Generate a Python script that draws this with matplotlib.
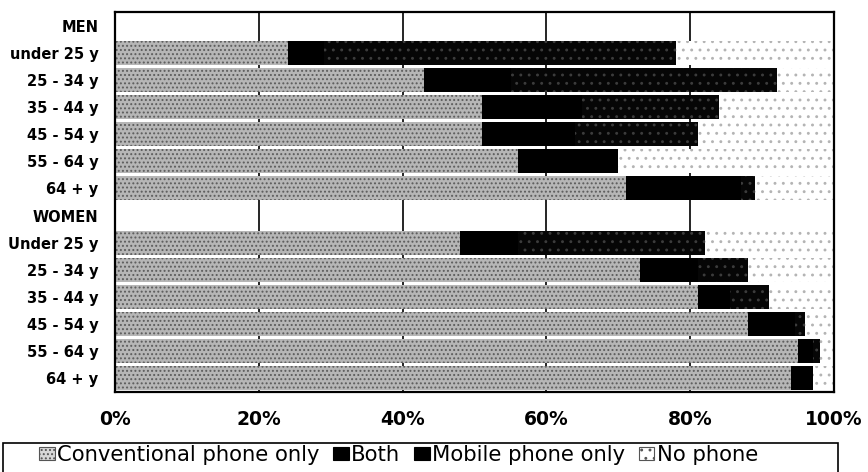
import numpy as np
import matplotlib
matplotlib.use('Agg')
import matplotlib.pyplot as plt
from matplotlib.patches import Rectangle, Patch

plt.rcParams['font.family'] = ['DejaVu Sans']
plt.rcParams['hatch.linewidth'] = 0.9

# rows from top to bottom
labels = ['MEN', 'under 25 y', '25 - 34 y', '35 - 44 y', '45 - 54 y', '55 - 64 y', '64 + y',
          'WOMEN', 'Under 25 y', '25 - 34 y', '35 - 44 y', '45 - 54 y', '55 - 64 y', '64 + y']
conventional = [0, 24, 43, 51, 51, 56, 71, 0, 48, 73, 81, 88, 95, 94]
both = [0, 5, 12, 14, 13, 14, 16, 0, 8, 8, 4.5, 6.5, 2, 3]
mobile = [0, 49, 37, 19, 17, 0, 2, 0, 26, 7, 5.5, 1.5, 1, 0]
no_phone = [0, 22, 8, 16, 19, 30, 11, 0, 18, 12, 9, 4, 2, 3]

series = ['Conventional phone only', 'Both', 'Mobile phone only', 'No phone']
styles = [
    dict(facecolor='#b6b6b6', edgecolor='#5c5c5c', hatch='....'),
    dict(facecolor='#000000', edgecolor='#000000', hatch=None),
    dict(facecolor='#060606', edgecolor='#3c3c3c', hatch='..'),
    dict(facecolor='#ffffff', edgecolor='#b4b4b4', hatch='..'),
]

fig = plt.figure(figsize=(8.68, 4.72), dpi=100)
ax = fig.add_axes([0.1325, 0.1695, 0.8285, 0.8051])

y = np.arange(len(labels))
left = np.zeros(len(labels))
for name, vals, st in zip(series, [conventional, both, mobile, no_phone], styles):
    vals = np.array(vals, dtype=float)
    ax.barh(y, vals, left=left, height=0.88, linewidth=0, zorder=2, label=name, **st)
    left += vals

ax.set_xlim(0, 100)
ax.set_ylim(len(labels) - 0.5, -0.5)
ax.set_xticks([0, 20, 40, 60, 80, 100])
ax.set_xticklabels(['0%', '20%', '40%', '60%', '80%', '100%'], fontsize=13.5, fontweight='bold')
ax.set_yticks(y)
ax.set_yticklabels(labels, fontsize=10.5, fontweight='bold')
ax.tick_params(axis='both', length=0)
ax.tick_params(axis='x', pad=13)
ax.tick_params(axis='y', pad=12)
for x in [20, 40, 60, 80]:
    ax.axvline(x, color='black', lw=1.2, zorder=1)
for s in ax.spines.values():
    s.set_linewidth(1.6)
    s.set_color('black')

# legend swatches with a thin outline, like the original
handles = [
    Patch(facecolor='#d8d8d8', edgecolor='#555555', hatch='....', lw=0.8),
    Patch(facecolor='#000000', edgecolor='#000000', lw=0.8),
    Patch(facecolor='#000000', edgecolor='#000000', lw=0.8),
    Patch(facecolor='#ffffff', edgecolor='#555555', hatch='..', lw=0.8),
]
fig.legend(handles=handles, labels=series, loc='lower left',
           bbox_to_anchor=(0.035, -0.003), ncol=4, frameon=False,
           fontsize=15.2, handlelength=0.75, handleheight=0.6,
           handletextpad=0.1, columnspacing=0.65, borderpad=0.2, borderaxespad=0.2)
fig.patches.append(Rectangle((3 / 868, -0.01), 835 / 868, 34 / 472, transform=fig.transFigure,
                             fill=False, edgecolor='black', lw=1.2))

fig.savefig('out.png', dpi=100)
